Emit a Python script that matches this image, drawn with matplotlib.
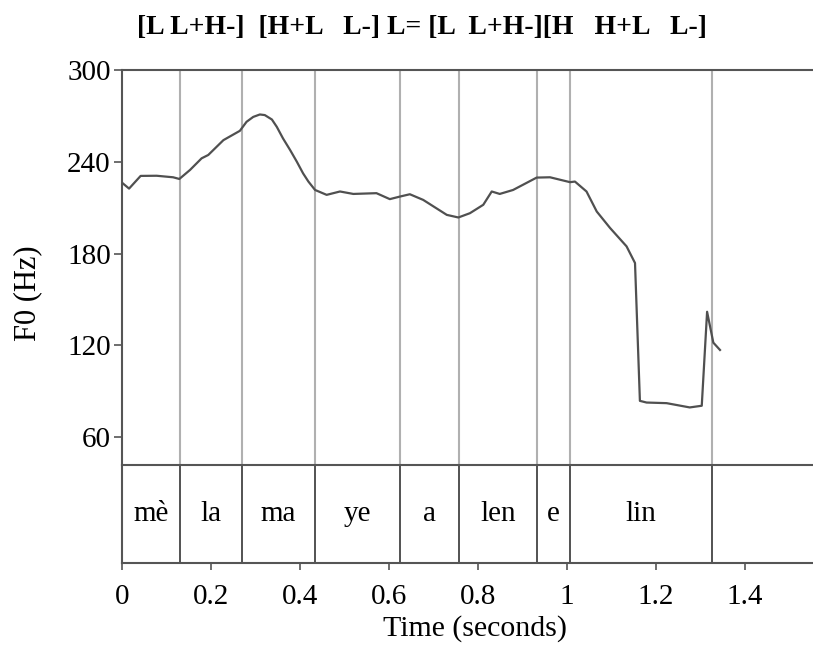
import numpy as np
import matplotlib.pyplot as plt

# F0 contour (seconds, Hz)
f0_time = [0.000, 0.016, 0.042, 0.078, 0.115, 0.129, 0.153, 0.179, 0.194, 0.228,
           0.265, 0.280, 0.295, 0.310, 0.321, 0.337, 0.348, 0.362, 0.378, 0.393,
           0.407, 0.419, 0.434, 0.460, 0.490,
           0.520, 0.572, 0.602, 0.625, 0.647, 0.677, 0.730, 0.756, 0.782, 0.812,
           0.831, 0.849, 0.879, 0.932, 0.962, 1.007, 1.018, 1.044, 1.067, 1.097,
           1.134, 1.153, 1.164, 1.179, 1.224, 1.276, 1.303, 1.315, 1.329, 1.344]
f0_hz = [226.5, 222.6, 230.9, 231.0, 230.0, 228.9, 234.8, 242.4, 244.6, 254.3,
         260.4, 266.3, 269.5, 271.1, 270.7, 267.8, 263.0, 255.4, 247.8, 240.2,
         232.6, 227.2, 221.7, 218.5, 220.7,
         219.1, 219.6, 215.7, 217.4, 218.9, 215.2, 205.4, 203.7, 206.5, 212.0,
         220.7, 219.1, 221.7, 229.8, 230.0, 226.8, 227.2, 220.7, 207.6, 196.8,
         184.8, 173.9, 83.7, 82.6, 82.2, 79.4, 80.5, 142.0, 121.8, 117.0]

# syllable boundaries and labels
boundaries = [0.130, 0.269, 0.433, 0.625, 0.757, 0.933, 1.008, 1.326]
syllables = ['mè', 'la', 'ma', 'ye', 'a', 'len', 'e', 'lin']
title = '[L L+H-]  [H+L   L-] L= [L  L+H-][H   H+L   L-]'

y_ticks = [60, 120, 180, 240, 300]
x_ticks = [0, 0.2, 0.4, 0.6, 0.8, 1, 1.2, 1.4]
x_labels = ['0', '0.2', '0.4', '0.6', '0.8', '1', '1.2', '1.4']

plt.rcParams['font.family'] = ['Liberation Serif', 'DejaVu Serif']
dark = '#555555'

fig = plt.figure(figsize=(8.13, 6.45), dpi=100)
ax = fig.add_axes([0.150, 0.279, 0.85, 0.612])
tier = fig.add_axes([0.150, 0.127, 0.85, 0.152], sharex=ax)

ax.plot(f0_time, f0_hz, color='#505050', linewidth=1.6, zorder=3,
        solid_joinstyle='round')
for b in boundaries:
    ax.axvline(b, color='#b0b0b0', linewidth=1.5, zorder=1)
    tier.axvline(b, color='#444444', linewidth=1.3)

ax.set_xlim(0, 1.553)
ax.set_ylim(41.7, 300)
ax.set_yticks(y_ticks)
ax.tick_params(axis='y', direction='out', length=6, width=1.2, color=dark,
               labelsize=21, pad=2)
ax.tick_params(axis='x', bottom=False, labelbottom=False)
for side in ['right', 'bottom']:
    ax.spines[side].set_visible(False)
for side in ['top', 'left']:
    ax.spines[side].set_color(dark)
    ax.spines[side].set_linewidth(1.5)
ax.set_ylabel('F0 (Hz)', fontsize=22, va='center')
ax.yaxis.set_label_coords(-0.136, 0.435)

edges = [0] + boundaries
for i, s in enumerate(syllables):
    tier.text((edges[i] + edges[i + 1]) / 2, 0.5, s, ha='center', va='center',
              fontsize=21, transform=tier.get_xaxis_transform())
tier.set_yticks([])
tier.spines['right'].set_visible(False)
for side in ['top', 'left', 'bottom']:
    tier.spines[side].set_color(dark)
    tier.spines[side].set_linewidth(1.5)
tier.set_xticks(x_ticks)
tier.set_xticklabels(x_labels)
tier.tick_params(axis='x', direction='out', length=5, width=1.2, color=dark,
                 labelsize=21, pad=10)
tier.set_xlabel('Time (seconds)', fontsize=21.5, va='center')
tier.xaxis.set_label_coords(0.511, -0.665)

fig.text(0.519, 0.958, title, ha='center', va='center', fontsize=20,
         fontweight='bold')

fig.savefig('out.png', dpi=100)
